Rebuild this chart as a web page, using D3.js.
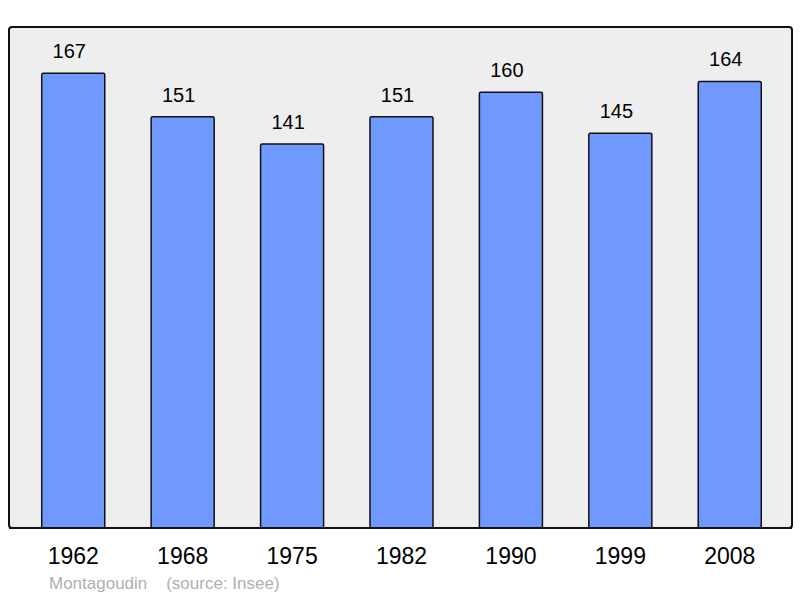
<!DOCTYPE html>
<html>
<head>
<meta charset="utf-8">
<script src="https://cdn.jsdelivr.net/npm/d3@7"></script>
<style>
    body { margin: 0; background: #fff; }
    text { font-family: "Liberation Sans", Arial, sans-serif; }
</style>
</head>
<body>
<svg id="chart" width="800" height="598"></svg>
<script>
var years = ['1962', '1968', '1975', '1982', '1990', '1999', '2008'];
var population = [167, 151, 141, 151, 160, 145, 164];
var townName = 'Montagoudin';
var sourceLabel = '(source: Insee)';

(function(){
    'use strict';

    var box = { left: 9, right: 792, top: 27, bottom: 528 },
        svg = d3.select( '#chart' ),
        x = d3.scaleBand()
            .domain( years )
            .range( [box.left + 1, box.right + 1] )
            .paddingInner( 0.424 )
            .paddingOuter( 0.29 ),
        y = d3.scaleLinear()
            .domain( [0, 184] )
            .range( [box.bottom, box.top] ),
        data = years.map( function( yr, i ){
            return { year: yr, value: population[i] };
        });

    // plot frame
    svg.append( 'rect' )
        .attr( 'x', box.left )
        .attr( 'y', box.top )
        .attr( 'width', box.right - box.left )
        .attr( 'height', box.bottom - box.top )
        .attr( 'rx', 3 )
        .attr( 'fill', '#eeeeee' )
        .attr( 'stroke', '#111' )
        .attr( 'stroke-width', 2 );

    svg.selectAll( 'rect.bar' )
        .data( data )
        .enter().append( 'rect' )
        .attr( 'class', 'bar' )
        .attr( 'x', function( d ){ return x( d.year ); } )
        .attr( 'y', function( d ){ return y( d.value ); } )
        .attr( 'width', x.bandwidth() )
        .attr( 'height', function( d ){ return y( 0 ) - y( d.value ); } )
        .attr( 'rx', 1.5 )
        .attr( 'fill', '#7099ff' )
        .attr( 'stroke', '#111' )
        .attr( 'stroke-width', 1.5 );

    // redraw bottom edge over the bars
    svg.append( 'line' )
        .attr( 'x1', box.left )
        .attr( 'x2', box.right )
        .attr( 'y1', box.bottom )
        .attr( 'y2', box.bottom )
        .attr( 'stroke', '#111' )
        .attr( 'stroke-width', 2 );

    svg.selectAll( 'text.value' )
        .data( data )
        .enter().append( 'text' )
        .attr( 'class', 'value' )
        .attr( 'x', function( d ){ return x( d.year ) + x.bandwidth() / 2 - 4; } )
        .attr( 'y', function( d ){ return y( d.value ) - 15; } )
        .attr( 'text-anchor', 'middle' )
        .style( 'font-size', '20px' )
        .attr( 'fill', '#000' )
        .text( function( d ){ return d.value; } );

    var xAxis = svg.append( 'g' )
        .attr( 'transform', 'translate(0,' + box.bottom + ')' )
        .call( d3.axisBottom( x ).tickSize( 0 ).tickPadding( 20 ) );

    xAxis.select( '.domain' ).remove();
    xAxis.selectAll( 'text' )
        .style( 'font-family', '"Liberation Sans", Arial, sans-serif' )
        .style( 'font-size', '23px' )
        .attr( 'fill', '#000' );

    svg.append( 'text' )
        .attr( 'x', 49 )
        .attr( 'y', 589 )
        .style( 'font-size', '17px' )
        .attr( 'fill', '#b0b0b0' )
        .text( townName + '\u00a0\u00a0\u00a0\u00a0' + sourceLabel );
})();
</script>
</body>
</html>
